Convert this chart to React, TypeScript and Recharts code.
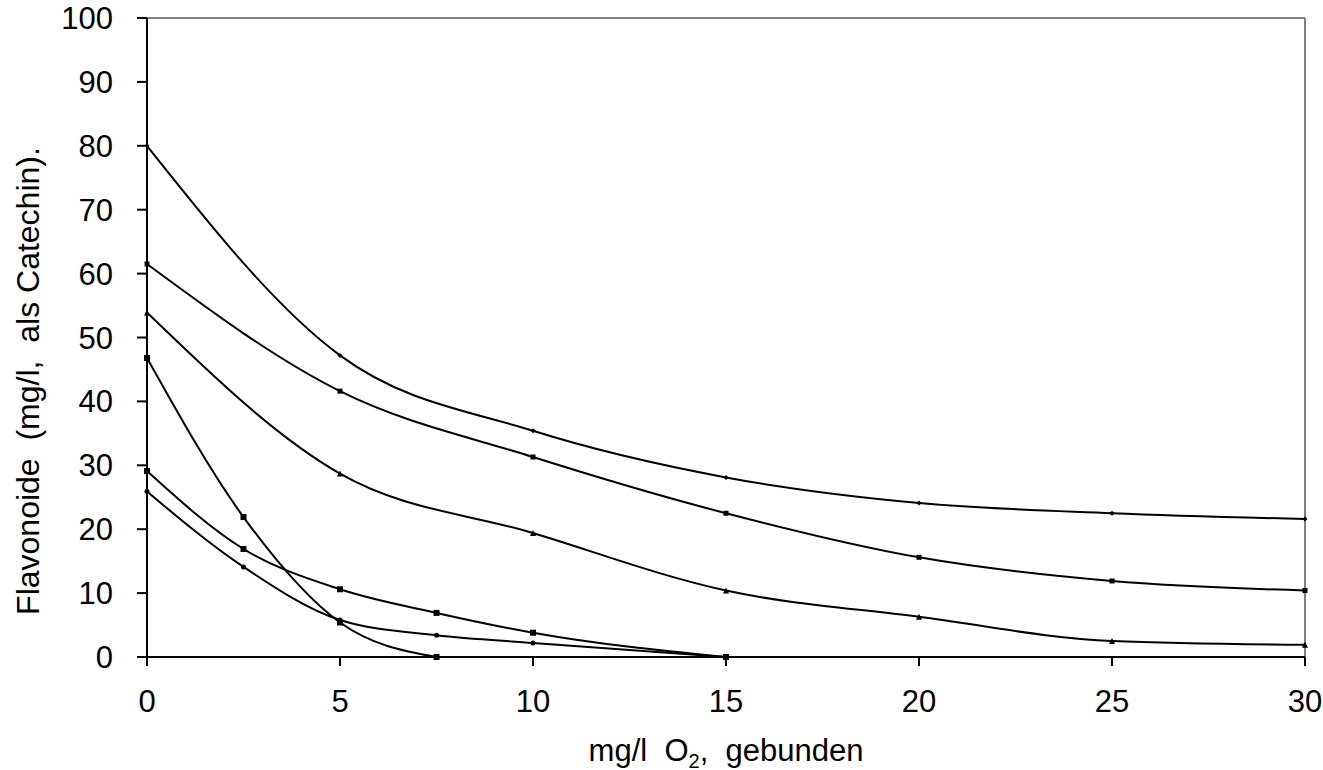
import { LineChart, Line, XAxis, YAxis, ReferenceLine, Label } from 'recharts'

// x positions (mg/l O2 gebunden)
const xLong = [0, 5, 10, 15, 20, 25, 30]
const xShort = [0, 2.5, 5, 7.5]
const xMid = [0, 2.5, 5, 7.5, 10, 15]

// Flavonoide in mg/l (als Catechin)
const seriesA = [80, 47.2, 35.4, 28.1, 24.1, 22.5, 21.6]
const seriesB = [61.5, 41.6, 31.3, 22.5, 15.6, 11.9, 10.4]
const seriesC = [53.9, 28.7, 19.4, 10.4, 6.3, 2.5, 1.9]
const seriesD = [46.8, 21.9, 5.4, 0]
const seriesE = [29.1, 16.9, 10.6, 6.9, 3.8, 0]
const seriesF = [25.9, 14.1, 5.8, 3.4, 2.2, 0]

const xTicks = [0, 5, 10, 15, 20, 25, 30]
const yTicks = [0, 10, 20, 30, 40, 50, 60, 70, 80, 90, 100]

const zip = (xs: number[], ys: number[]) => xs.map((x, i) => ({ x, y: ys[i] }))

type Shape = 'diamond' | 'square' | 'triangle' | 'circle'

const makeDot = (shape: Shape, size: number) => (props: any) => {
  const { cx, cy, key, index } = props
  const k = key ?? `d-${shape}-${index}`
  const h = size / 2
  if (shape === 'square') {
    return <rect key={k} x={cx - h} y={cy - h} width={size} height={size} fill="#000" />
  }
  if (shape === 'diamond') {
    return <polygon key={k} points={`${cx},${cy - h} ${cx + h},${cy} ${cx},${cy + h} ${cx - h},${cy}`} fill="#000" />
  }
  if (shape === 'triangle') {
    return <polygon key={k} points={`${cx},${cy - h} ${cx + h},${cy + h} ${cx - h},${cy + h}`} fill="#000" />
  }
  return <circle key={k} cx={cx} cy={cy} r={h} fill="#000" />
}

const font = '"Liberation Sans", Arial, sans-serif'
const FS = 31

const XTick = (props: any) => (
  <text x={props.x} y={props.y} dy="0.71em" textAnchor="middle" fontSize={FS} fontFamily={font} fill="#000">
    {props.payload.value}
  </text>
)

const YTick = (props: any) => (
  <text x={props.x} y={props.y} dy="0.355em" textAnchor="end" fontSize={FS} fontFamily={font} fill="#000">
    {props.payload.value}
  </text>
)

const XTitle = (props: any) => {
  const { viewBox } = props
  const cx = viewBox.x + viewBox.width / 2
  return (
    <text x={cx} y={761} textAnchor="middle" fontSize={31} fontFamily={font} fill="#000" style={{ whiteSpace: 'pre' }}>
      <tspan>mg/l  O</tspan>
      <tspan fontSize={20} dy={7}>2</tspan>
      <tspan dy={-7}>,  gebunden</tspan>
    </text>
  )
}

const YTitle = () => (
  <text
    x={0}
    y={0}
    transform="translate(39, 381) rotate(-90)"
    textAnchor="middle"
    fontSize={32}
    fontFamily={font}
    fill="#000"
    style={{ whiteSpace: 'pre' }}
  >
    Flavonoide  (mg/l,  als Catechin).
  </text>
)

export default function App() {
  const series = [
    { name: 'A', data: zip(xLong, seriesA), dot: makeDot('diamond', 5) },
    { name: 'B', data: zip(xLong, seriesB), dot: makeDot('square', 5) },
    { name: 'C', data: zip(xLong, seriesC), dot: makeDot('triangle', 6) },
    { name: 'D', data: zip(xShort, seriesD), dot: makeDot('square', 6) },
    { name: 'E', data: zip(xMid, seriesE), dot: makeDot('square', 6) },
    { name: 'F', data: zip(xMid, seriesF), dot: makeDot('circle', 5) },
  ]

  return (
    <div style={{ position: 'absolute', left: 0, top: 0, background: '#fff' }}>
      <LineChart width={1323} height={770} margin={{ top: 18, right: 18, left: 0, bottom: 0 }}>
        <ReferenceLine y={100} stroke="#808080" strokeWidth={2} />
        <ReferenceLine x={30} stroke="#808080" strokeWidth={2} />
        <XAxis
          type="number"
          dataKey="x"
          domain={[0, 30]}
          ticks={xTicks}
          allowDuplicatedCategory={false}
          height={113}
          tickSize={9}
          tickMargin={24}
          stroke="#000"
          strokeWidth={2}
          tick={<XTick />}
        >
          <Label content={<XTitle />} />
        </XAxis>
        <YAxis
          type="number"
          domain={[0, 100]}
          ticks={yTicks}
          width={147}
          tickSize={10}
          tickMargin={24}
          stroke="#000"
          strokeWidth={2}
          tick={<YTick />}
        >
          <Label content={<YTitle />} />
        </YAxis>
        {series.map(s => (
          <Line
            key={s.name}
            data={s.data}
            dataKey="y"
            type="monotone"
            stroke="#000"
            strokeWidth={2}
            dot={s.dot}
            activeDot={false}
            isAnimationActive={false}
          />
        ))}
      </LineChart>
    </div>
  )
}
